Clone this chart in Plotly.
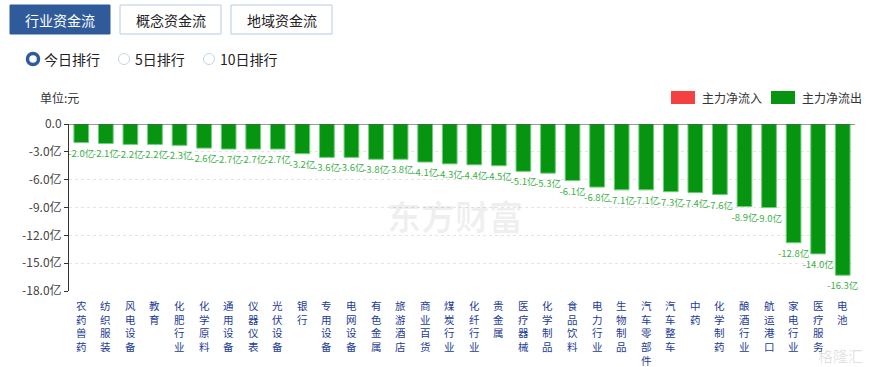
import plotly.graph_objects as go

categories = ["农药兽药", "纺织服装", "风电设备", "教育", "化肥行业", "化学原料", "通用设备", "仪器仪表",
              "光伏设备", "银行", "专用设备", "电网设备", "有色金属", "旅游酒店", "商业百货", "煤炭行业",
              "化纤行业", "贵金属", "医疗器械", "化学制品", "食品饮料", "电力行业", "生物制品", "汽车零部件",
              "汽车整车", "中药", "化学制药", "酿酒行业", "航运港口", "家电行业", "医疗服务", "电池"]
values = [-2.0, -2.1, -2.2, -2.2, -2.3, -2.6, -2.7, -2.7, -2.7, -3.2, -3.6, -3.6, -3.8, -3.8, -4.1, -4.3,
          -4.4, -4.5, -5.1, -5.3, -6.1, -6.8, -7.1, -7.1, -7.3, -7.4, -7.6, -8.9, -9.0, -12.8, -14.0, -16.3]
y_ticks = [0, -3, -6, -9, -12, -15, -18]
y_ticktext = ["0.0", "-3.0亿", "-6.0亿", "-9.0亿", "-12.0亿", "-15.0亿", "-18.0亿"]

FONT = "Microsoft YaHei, Noto Sans CJK SC, sans-serif"
W, H = 870, 367
L, R, T, B = 69, 15, 124, 76

x_idx = list(range(len(categories)))
fig = go.Figure()
fig.add_trace(go.Bar(
    x=x_idx, y=values, width=0.6,
    marker=dict(color="#079410", line=dict(color="#6fd07a", width=1)),
    text=[f"{v:.1f}亿" for v in values], textposition="outside",
    textfont=dict(color="#3bb048", size=9.5, family=FONT),
    constraintext="none", cliponaxis=False, hoverinfo="skip", showlegend=False,
))

fig.update_layout(
    width=W, height=H, margin=dict(l=L, r=R, t=T, b=B, autoexpand=False),
    paper_bgcolor="white", plot_bgcolor="white",
    font=dict(family=FONT, size=12, color="#333"),
    bargap=0.4,
    xaxis=dict(tickvals=x_idx, showticklabels=False,
               range=[-0.5, len(categories) - 0.5], showgrid=False, showline=False,
               ticks="", zeroline=False, automargin=False),
    yaxis=dict(range=[-18, 0], tickvals=y_ticks, ticktext=y_ticktext,
               showgrid=True, gridcolor="#e4e4e4", griddash="3px,3px", gridwidth=1,
               showline=True, linecolor="#333", linewidth=1, ticks="outside", ticklen=4,
               tickcolor="#333", zeroline=False, automargin=False,
               tickfont=dict(color="#444", size=12, family=FONT)),
)

shapes = []
annotations = []


def px(x):
    return (x - L) / (W - L - R)


def py(y):
    return (H - B - y) / (H - T - B)


# top zero line
shapes.append(dict(type="line", xref="paper", yref="y", x0=0, x1=1, y0=0, y1=0,
                   line=dict(color="#333", width=1)))

# vertical category labels (one character per line)
for i, c in enumerate(categories):
    annotations.append(dict(text="<br>".join(list(c)), xref="x", yref="paper", x=i, y=py(297),
                            showarrow=False, xanchor="center", yanchor="top", borderpad=0,
                            font=dict(size=10.5, color="#1d3b94", family=FONT)))

# buttons
buttons = [("行业资金流", 10, 110, True), ("概念资金流", 120, 221, False), ("地域资金流", 231, 332, False)]
for txt, x0, x1, active in buttons:
    shapes.append(dict(type="rect", xref="paper", yref="paper",
                       x0=px(x0), x1=px(x1), y0=py(34), y1=py(5),
                       fillcolor="#2f5b9a" if active else "white",
                       line=dict(color="#2f5b9a" if active else "#b8cce6", width=1)))
    annotations.append(dict(text=txt, xref="paper", yref="paper",
                            x=px((x0 + x1) / 2), y=py(19.5),
                            showarrow=False, font=dict(size=14, color="white" if active else "#222", family=FONT),
                            xanchor="center", yanchor="middle"))

# radio buttons
radios = [("今日排行", 33, True), ("5日排行", 124, False), ("10日排行", 209, False)]
for txt, cx, active in radios:
    r = 5.5
    shapes.append(dict(type="circle", xref="paper", yref="paper",
                       x0=px(cx - r), x1=px(cx + r), y0=py(59 + r), y1=py(59 - r),
                       fillcolor="white", line=dict(color="#2f5b9a" if active else "#c5d5ea",
                                                    width=3.5 if active else 1)))
    annotations.append(dict(text=txt, xref="paper", yref="paper", x=px(cx + 9), y=py(59.5),
                            showarrow=False, xanchor="left", yanchor="middle",
                            font=dict(size=14, color="#222", family=FONT)))

# unit
annotations.append(dict(text="单位:元", xref="paper", yref="paper", x=px(38), y=py(97),
                        showarrow=False, xanchor="left", yanchor="middle",
                        font=dict(size=12, color="#333", family=FONT)))

# legend
for txt, x0, col in [("主力净流入", 671, "#f44040"), ("主力净流出", 771, "#079410")]:
    shapes.append(dict(type="rect", xref="paper", yref="paper",
                       x0=px(x0), x1=px(x0 + 24), y0=py(104), y1=py(91),
                       fillcolor=col, line=dict(width=0)))
    annotations.append(dict(text=txt, xref="paper", yref="paper", x=px(x0 + 29), y=py(97.5),
                            showarrow=False, xanchor="left", yanchor="middle",
                            font=dict(size=12, color="#333", family=FONT)))

# watermarks
annotations.append(dict(text="<b>东方财富</b>", xref="paper", yref="paper", x=px(455), y=py(215),
                        showarrow=False, xanchor="center", yanchor="middle", borderpad=0,
                        font=dict(size=34, color="rgba(0,0,0,0.06)", family=FONT)))
annotations.append(dict(text="格隆汇", xref="paper", yref="paper", x=px(840), y=py(355),
                        showarrow=False, xanchor="center", yanchor="middle", borderpad=0,
                        font=dict(size=15, color="rgba(0,0,0,0.12)", family=FONT)))

fig.update_layout(shapes=shapes, annotations=annotations)
fig.write_html("out.html", config={"displayModeBar": False},
               post_script="document.body.style.margin='0';document.body.style.overflow='hidden';")
